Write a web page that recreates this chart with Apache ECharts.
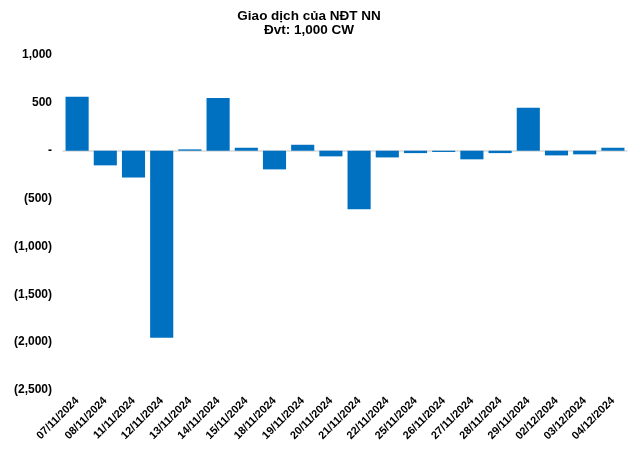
<!DOCTYPE html>
<html><head><meta charset="utf-8">
<script src="https://cdn.jsdelivr.net/npm/echarts@6/dist/echarts.min.js"></script>
<style>html,body{margin:0;padding:0;background:#fff}#c{width:640px;height:451px}</style>
</head><body><div id="c"></div>
<script>
const categories = ["07/11/2024","08/11/2024","11/11/2024","12/11/2024","13/11/2024","14/11/2024","15/11/2024","18/11/2024","19/11/2024","20/11/2024","21/11/2024","22/11/2024","25/11/2024","26/11/2024","27/11/2024","28/11/2024","29/11/2024","02/12/2024","03/12/2024","04/12/2024"];
const values = [565, -153, -280, -1955, 14, 552, 31, -195, 62, -59, -611, -70, -25, -13, -90, -25, 448, -49, -38, 31];
const titleLines = ["Giao dịch của NĐT NN", "Đvt: 1,000 CW"];

function fmt(v){
  if (v === 0) return '-';
  const s = Math.abs(v).toLocaleString('en-US');
  return v < 0 ? '(' + s + ')' : s;
}
const chart = echarts.init(document.getElementById('c'));
chart.setOption({
  animation:false,
  title:{text:titleLines.join('\n'), left:304, textAlign:'center', top:5,
    textStyle:{fontFamily:'Liberation Sans, Arial', fontWeight:'bold', fontSize:13.5, lineHeight:13.5, color:'#000'}},
  grid:{left:63, right:13, top:55, bottom:61, containLabel:false},
  xAxis:[{type:'category', data:categories,
    axisLine:{show:false, onZero:false}, axisTick:{show:false},
    axisLabel:{rotate:45, interval:0, margin:9, fontFamily:'Liberation Sans, Arial', fontWeight:'bold', fontSize:11, color:'#000'}},
    {type:'category', data:categories, position:'bottom',
    axisLine:{show:true, onZero:true, lineStyle:{color:'#d9d9d9', width:1.5}}, axisTick:{show:false}, axisLabel:{show:false}}],
  yAxis:{type:'value', min:-2500, max:1000, interval:500,
    splitLine:{show:false}, axisLine:{show:false}, axisTick:{show:false},
    axisLabel:{formatter:fmt, margin:11, fontFamily:'Liberation Sans, Arial', fontWeight:'bold', fontSize:12, color:'#000'}},
  series:[{type:'bar', data:values, barCategoryGap:'18%', itemStyle:{color:'#0070C0'}}]
});
</script></body></html>
